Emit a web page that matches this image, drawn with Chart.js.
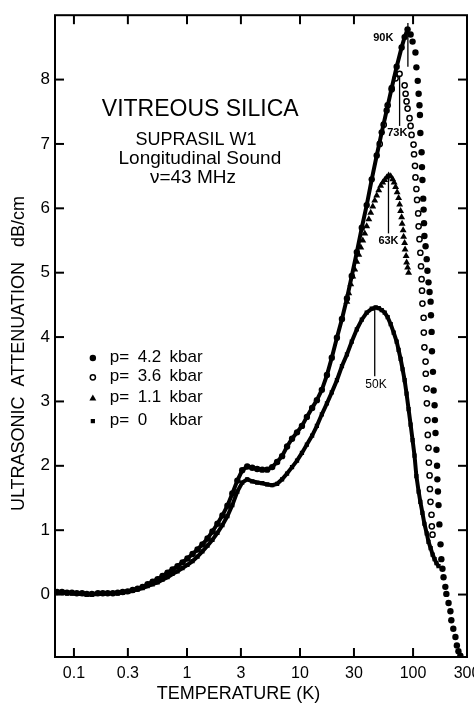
<!DOCTYPE html>
<html><head><meta charset="utf-8">
<script src="https://cdn.jsdelivr.net/npm/chart.js@4.4.1/dist/chart.umd.min.js"></script>
<style>
html,body{margin:0;padding:0;background:#fff;overflow:hidden;width:474px;height:710px}
#wrap{position:absolute;left:0;top:0;width:490px;height:710px}
</style></head>
<body><div id="wrap"><canvas id="c" width="490" height="710"></canvas></div>
<script>
// ---- axis ticks ----
const xTickValues = [0.1, 0.3, 1, 3, 10, 30, 100, 300];
const xTickLabels = ['0.1', '0.3', '1', '3', '10', '30', '100', '300'];
const yTickValues = [0, 1, 2, 3, 4, 5, 6, 7, 8];

// ---- series: p = 4.2 kbar (filled circles) ----
const temp42Rise = [0.0708,0.0784,0.0868,0.096,0.106,0.118,0.130,0.144,0.163,0.180,0.199,0.221,0.244,0.270,0.299,0.331,0.366,0.405,0.449,0.497,0.550,0.608,0.673,0.745,0.825,0.913,1.01,1.12,1.24,1.37,1.52,1.68,1.86,2.06,2.28,2.52,2.79,3.08,3.41,3.78,4.18,4.63,5.12,5.67,6.27,6.94,7.68,8.50,9.41,10.4,11.5,12.8,14.1,15.6,17.3,19.1,21.2,23.5,26.0,28.7,31.8,35.2,38.9,43.1,47.7,52.8,58.4,64.7,71.6,79.2,84.2,89.4];
const atten42Rise = [0.04,0.04,0.03,0.03,0.02,0.02,0.01,0.01,0.02,0.02,0.02,0.02,0.03,0.04,0.05,0.07,0.09,0.12,0.16,0.20,0.24,0.29,0.34,0.39,0.44,0.50,0.56,0.63,0.70,0.78,0.87,0.98,1.10,1.23,1.38,1.57,1.77,1.93,1.99,1.97,1.95,1.94,1.94,1.98,2.06,2.15,2.30,2.42,2.52,2.62,2.76,2.90,3.02,3.18,3.41,3.68,3.99,4.28,4.60,4.95,5.32,5.70,6.05,6.45,6.82,7.18,7.52,7.87,8.20,8.50,8.66,8.78];
const temp42Fall = [95.1,99.0,105,107,110,112,114,115,116,119,120,121,123,124,125,126,129,132,134,137,140,143,144,146,147,150,152,155,156,158,161,163,164,166,168,171,175,178,182,186,193,197,206,214,218,227,237,244,252,262];
const atten42Fall = [8.70,8.59,8.42,8.19,7.98,7.78,7.60,7.45,7.17,6.87,6.64,6.44,6.15,5.98,5.77,5.57,5.41,5.21,5.03,4.85,4.70,4.55,4.34,4.08,3.78,3.46,3.17,2.94,2.71,2.51,2.25,2.00,1.79,1.60,1.39,1.09,0.78,0.55,0.40,0.27,0.12,0.01,-0.13,-0.26,-0.40,-0.53,-0.66,-0.79,-0.88,-0.95];

// ---- series: p = 3.6 kbar (open circles) ----
const temp36 = [50.7,55.0,59.6,64.7,70.1,76.0,84.2,85.9,87.6,89.4,93.1,95.1,97.0,101,102,104,105,107,108.5,111,112,114,116,117.6,119,120,121,124,124.5,126,129,129.5,131.5,132.5,134,135,137,138,140,141,142.6,145.6,146.5,148.6];
const atten36 = [7.00,7.30,7.60,7.85,8.02,8.09,7.91,7.78,7.66,7.55,7.40,7.28,7.14,6.99,6.84,6.66,6.48,6.30,6.13,5.92,5.72,5.52,5.31,5.10,4.90,4.72,4.52,4.30,4.07,3.84,3.62,3.43,3.20,2.97,2.71,2.48,2.28,2.05,1.85,1.64,1.44,1.24,1.06,0.93];

// ---- series: p = 1.1 kbar (triangles) ----
const temp11 = [25.95,27.0,28.1,29.3,30.5,31.8,33.1,34.5,35.9,37.4,38.9,40.6,42.2,44.0,45.8,47.7,49.7,51.7,53.9,56.1,58.4,60.8,63.4,66.0,68.0,70.1,72.3,74.5,76.1,77.6,79.2,80.0,81.7,82.5,84.2,85.0,86.8,87.7,89.5,91.3];
const atten11 = [4.55,4.68,4.82,4.94,5.05,5.17,5.28,5.39,5.50,5.61,5.72,5.83,5.93,6.03,6.12,6.20,6.28,6.35,6.40,6.44,6.48,6.51,6.50,6.45,6.40,6.33,6.25,6.16,6.06,5.96,5.86,5.76,5.66,5.56,5.46,5.36,5.26,5.16,5.08,5.00];

// ---- series: p = 0 kbar (squares) ----
const temp0 = [0.0708,0.0784,0.0868,0.096,0.106,0.118,0.130,0.144,0.163,0.180,0.199,0.221,0.244,0.270,0.299,0.331,0.366,0.405,0.449,0.497,0.550,0.608,0.673,0.745,0.825,0.913,1.01,1.12,1.24,1.37,1.52,1.68,1.86,2.06,2.28,2.52,2.79,3.08,3.41,3.78,4.18,4.63,5.12,5.67,6.27,6.94,7.68,8.50,9.41,10.4,11.5,12.8,14.1,15.6,17.3,19.1,21.2,23.5,26.0,28.7,31.8,35.2,38.9,43.1,46.7,49.7,52.8,56.1,59.6,63.4,67.4,71.6,74.5,77.6,80.8,84.2,87.6,91.3,95.1,99.0,103,107,112,116,121,126,132,137,143,149,155,161,168];
const atten0 = [0.03,0.03,0.02,0.02,0.01,0.01,0.00,0.00,0.01,0.01,0.02,0.02,0.02,0.03,0.04,0.06,0.08,0.10,0.13,0.16,0.19,0.23,0.27,0.32,0.36,0.41,0.46,0.52,0.59,0.67,0.76,0.85,0.96,1.08,1.22,1.39,1.60,1.74,1.79,1.76,1.74,1.73,1.71,1.70,1.72,1.79,1.88,1.98,2.08,2.20,2.33,2.47,2.62,2.80,2.97,3.14,3.33,3.55,3.73,3.93,4.12,4.27,4.38,4.44,4.46,4.45,4.42,4.38,4.31,4.20,4.07,3.93,3.80,3.66,3.50,3.33,3.12,2.88,2.64,2.40,2.16,1.84,1.60,1.44,1.27,1.10,0.95,0.82,0.72,0.62,0.55,0.49,0.44];

// ---- legend ----
const legendPressures = ['4.2', '3.6', '1.1', '0'];

// ---- annotations (data coordinates) ----
const noteLines = ['VITREOUS SILICA', 'SUPRASIL W1', 'Longitudinal Sound', 'ν=43 MHz'];
const noteT = [1.31, 1.20, 1.30, 1.13];
const noteY = [7.54, 7.06, 6.77, 6.48];
const peakText = ['90K', '73K', '63K', '50K'];
const peakLineT = [90, 76, 60.6, 45.8];
const peakLineTop = [8.88, 8.06, 6.48, 4.45];
const peakLineBottom = [8.20, 7.28, 5.61, 3.39];
const peakTextT = [54.5, 72.6, 60.6, 47.0];
const peakTextY = [8.64, 7.17, 5.50, 3.26];

const zip = (xs, ys) => xs.map((x, i) => ({ x: x, y: ys[i] }));
const FONT = '"Liberation Sans", Arial, sans-serif';

const styles = [
  { pointStyle: 'circle', radius: 3.2, bg: '#000', border: '#000', bw: 0 },
  { pointStyle: 'circle', radius: 2.6, bg: '#fff', border: '#000', bw: 1.5 },
  { pointStyle: 'triangle', radius: 4.0, bg: '#000', border: '#000', bw: 0 },
  { pointStyle: 'rect', radius: 3.0, bg: '#000', border: '#000', bw: 0 }
];

const datasets = [
  {
    label: 'p= 4.2 kbar',
    data: zip(temp42Rise.concat(temp42Fall), atten42Rise.concat(atten42Fall)),
    showLine: true, borderColor: '#000', borderWidth: 4,
    segment: { borderColor: c => (c.p1.parsed.x > 90 ? 'rgba(0,0,0,0)' : '#000') },
    pointStyle: 'circle', pointRadius: 3.2, pointBackgroundColor: '#000', pointBorderWidth: 0
  },
  {
    label: 'p= 3.6 kbar', data: zip(temp36, atten36), showLine: false,
    pointStyle: 'circle', pointRadius: 2.6, pointBackgroundColor: '#fff',
    pointBorderColor: '#000', pointBorderWidth: 1.5
  },
  {
    label: 'p= 1.1 kbar', data: zip(temp11, atten11), showLine: false,
    pointStyle: 'triangle', pointRadius: 4.0, pointBackgroundColor: '#000', pointBorderWidth: 0
  },
  {
    label: 'p= 0 kbar', data: zip(temp0, atten0), showLine: true,
    borderColor: '#000', borderWidth: 4,
    pointStyle: 'rect', pointRadius: 3.0, pointBackgroundColor: '#000', pointBorderWidth: 0
  }
];

function line(ctx, x1, y1, x2, y2) { ctx.beginPath(); ctx.moveTo(x1, y1); ctx.lineTo(x2, y2); ctx.stroke(); }

const decor = {
  id: 'decor',
  afterDraw(chart) {
    const ctx = chart.ctx, a = chart.chartArea, xs = chart.scales.x, ys = chart.scales.y;
    ctx.save();
    ctx.strokeStyle = '#000'; ctx.fillStyle = '#000'; ctx.lineWidth = 2;
    ctx.strokeRect(a.left, a.top, a.right - a.left, a.bottom - a.top);
    xTickValues.forEach(v => {
      const px = xs.getPixelForValue(v);
      if (px < a.right - 3) { line(ctx, px, a.bottom, px, a.bottom - 9); line(ctx, px, a.top, px, a.top + 9); }
    });
    yTickValues.forEach(v => {
      const py = ys.getPixelForValue(v);
      line(ctx, a.left, py, a.left + 9, py); line(ctx, a.right, py, a.right - 9, py);
    });
    // title block
    const sizes = [23, 18, 19, 19];
    ctx.textAlign = 'center'; ctx.textBaseline = 'middle';
    noteLines.forEach((t, i) => {
      ctx.font = sizes[i] + 'px ' + FONT;
      ctx.fillText(t, xs.getPixelForValue(noteT[i]), ys.getPixelForValue(noteY[i]));
    });
    // peak markers
    ctx.lineWidth = 1.3;
    peakText.forEach((t, i) => {
      const px = xs.getPixelForValue(peakLineT[i]);
      line(ctx, px, ys.getPixelForValue(peakLineTop[i]), px, ys.getPixelForValue(peakLineBottom[i]));
      ctx.font = (i < 3 ? 'bold 11px ' : '12px ') + FONT;
      ctx.fillText(t, xs.getPixelForValue(peakTextT[i]), ys.getPixelForValue(peakTextY[i]));
    });
    // legend
    const legY = [3.69, 3.39, 3.06, 2.71];
    const symX = xs.getPixelForValue(0.147);
    const c1 = xs.getPixelForValue(0.2075), c2 = xs.getPixelForValue(0.366), c3 = xs.getPixelForValue(0.701);
    ctx.textAlign = 'left';
    ctx.font = '17px ' + FONT;
    legendPressures.forEach((p, i) => {
      const py = ys.getPixelForValue(legY[i]);
      const s = styles[i];
      ctx.fillStyle = s.bg; ctx.strokeStyle = s.border; ctx.lineWidth = s.bw;
      Chart.helpers.drawPoint(ctx, { pointStyle: s.pointStyle, radius: s.radius, rotation: 0, borderWidth: s.bw }, symX, py + 1);
      ctx.fillStyle = '#000';
      ctx.fillText('p=', c1, py);
      ctx.fillText(p, c2, py);
      ctx.fillText('kbar', c3, py);
    });
    ctx.restore();
  }
};

const NB = '\u00a0';
new Chart(document.getElementById('c'), {
  type: 'scatter',
  data: { datasets: datasets },
  plugins: [decor],
  options: {
    responsive: false, animation: false, devicePixelRatio: 1,
    layout: { padding: { top: 6, right: 23, bottom: 0, left: 0 } },
    plugins: { legend: { display: false }, tooltip: { enabled: false } },
    scales: {
      x: {
        type: 'logarithmic', position: 'bottom', min: 0.068, max: 300,
        afterBuildTicks: s => { s.ticks = xTickValues.map(v => ({ value: v })); },
        afterFit: s => { s.height = 53; },
        grid: { display: false, drawTicks: false }, border: { display: false },
        ticks: { color: '#000', padding: 7, maxRotation: 0, autoSkip: false,
          font: { family: FONT, size: 16 },
          callback: v => { const i = xTickValues.indexOf(v); return i >= 0 ? xTickLabels[i] : ''; } },
        title: { display: true, text: 'TEMPERATURE (K)' + NB.repeat(9), color: '#000',
          font: { family: FONT, size: 18 }, padding: { top: 0, bottom: 5 } }
      },
      y: {
        type: 'linear', position: 'left', min: -0.97, max: 9.0,
        afterBuildTicks: s => { s.ticks = yTickValues.map(v => ({ value: v })); },
        afterFit: s => { s.width = 55; },
        grid: { display: false, drawTicks: false }, border: { display: false },
        ticks: { color: '#000', padding: 5, font: { family: FONT, size: 17 },
          callback: v => String(v) },
        title: { display: true, text: 'ULTRASONIC  ATTENUATION   dB/cm' + NB.repeat(7), color: '#000',
          font: { family: FONT, size: 18 }, padding: { top: 8, bottom: 0 } }
      }
    }
  }
});
</script></body></html>
